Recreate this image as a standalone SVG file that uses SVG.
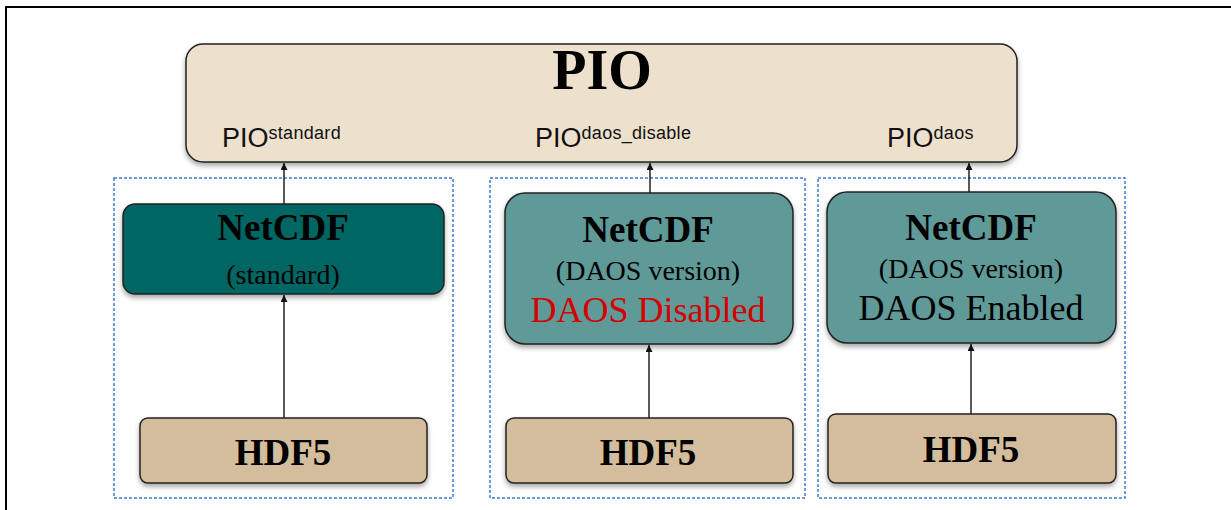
<svg xmlns="http://www.w3.org/2000/svg" width="1231" height="510" viewBox="0 0 1231 510">
<style>
.frame{fill:none;stroke:#000;stroke-width:2}
.grp{fill:none;stroke:#3f7bd2;stroke-width:1.5;stroke-dasharray:3 2}
.box{stroke:#222;stroke-width:1.5}
.pio{fill:#ede0cd}
.nc1{fill:#006663}
.nc2{fill:#5f9a98}
.hdf{fill:#d3bd9c}
.serifb{font-family:"Liberation Serif","Times New Roman",serif;font-weight:bold;fill:#000;text-anchor:middle}
.serif{font-family:"Liberation Serif","Times New Roman",serif;fill:#000;text-anchor:middle}
.sans{font-family:"Liberation Sans",Arial,sans-serif;fill:#111}
.sup{font-size:18px;letter-spacing:0.3px}
.conn{stroke:#222;stroke-width:1.5;fill:none;marker-end:url(#ah)}
</style>
<defs>
<marker id="ah" viewBox="0 0 10 10" refX="10" refY="5" markerWidth="9" markerHeight="7" markerUnits="userSpaceOnUse" orient="auto">
<path d="M0,0 L10,5 L0,10 z" fill="#111"/>
</marker>
<filter id="sh" x="-10%" y="-10%" width="120%" height="130%">
<feDropShadow dx="0" dy="3" stdDeviation="2.5" flood-color="#000" flood-opacity="0.35"/>
</filter>
</defs>
<rect width="1231" height="510" fill="#fff"/>
<path class="frame" d="M6 510 V7 H1231"/>

<g id="group-standard"><rect class="grp" x="114" y="178" width="339" height="320"/></g>
<g id="group-daos-disabled"><rect class="grp" x="490" y="178" width="315" height="320"/></g>
<g id="group-daos-enabled"><rect class="grp" x="818" y="178" width="307" height="320"/></g>

<g id="pio">
<rect class="box pio" x="186" y="44" width="831" height="118" rx="17" filter="url(#sh)"/>
<text class="serifb" x="602" y="89" font-size="56">PIO</text>
<text class="sans" x="222" y="147" font-size="27">PIO<tspan class="sup" dy="-8">standard</tspan></text>
<text class="sans" x="535" y="147" font-size="27">PIO<tspan class="sup" dy="-8">daos_disable</tspan></text>
<text class="sans" x="887" y="147" font-size="27">PIO<tspan class="sup" dy="-8">daos</tspan></text>
</g>

<g id="netcdf-standard">
<rect class="box nc1" x="123" y="204" width="321" height="90" rx="12" filter="url(#sh)"/>
<text class="serifb" x="283" y="240" font-size="37">NetCDF</text>
<text class="serif" x="283" y="284" font-size="28" fill="#111">(standard)</text>
</g>

<g id="netcdf-daos-disabled">
<rect class="box nc2" x="505" y="193" width="288" height="151" rx="20" filter="url(#sh)"/>
<text class="serifb" x="648" y="242" font-size="37">NetCDF</text>
<text class="serif" x="648" y="280" font-size="28">(DAOS version)</text>
<text class="serif" x="648" y="322" font-size="36" style="fill:#d40000">DAOS Disabled</text>
</g>

<g id="netcdf-daos-enabled">
<rect class="box nc2" x="827" y="192" width="289" height="151" rx="20" filter="url(#sh)"/>
<text class="serifb" x="971" y="240" font-size="37">NetCDF</text>
<text class="serif" x="971" y="278" font-size="28">(DAOS version)</text>
<text class="serif" x="971" y="320" font-size="36">DAOS Enabled</text>
</g>

<g id="hdf5-1">
<rect class="box hdf" x="140" y="418" width="287" height="65" rx="8" filter="url(#sh)"/>
<text class="serifb" x="283" y="465" font-size="37">HDF5</text>
</g>
<g id="hdf5-2">
<rect class="box hdf" x="506" y="418" width="287" height="65" rx="8" filter="url(#sh)"/>
<text class="serifb" x="648" y="465" font-size="37">HDF5</text>
</g>
<g id="hdf5-3">
<rect class="box hdf" x="828" y="414" width="288" height="69" rx="8" filter="url(#sh)"/>
<text class="serifb" x="971" y="462" font-size="37">HDF5</text>
</g>

<g id="connectors">
<line class="conn" x1="284" y1="418" x2="284" y2="295"/>
<line class="conn" x1="284" y1="204" x2="284" y2="163"/>
<line class="conn" x1="649" y1="418" x2="649" y2="345"/>
<line class="conn" x1="650" y1="193" x2="650" y2="163"/>
<line class="conn" x1="971" y1="414" x2="971" y2="344"/>
<line class="conn" x1="969" y1="192" x2="969" y2="163"/>
</g>
</svg>
